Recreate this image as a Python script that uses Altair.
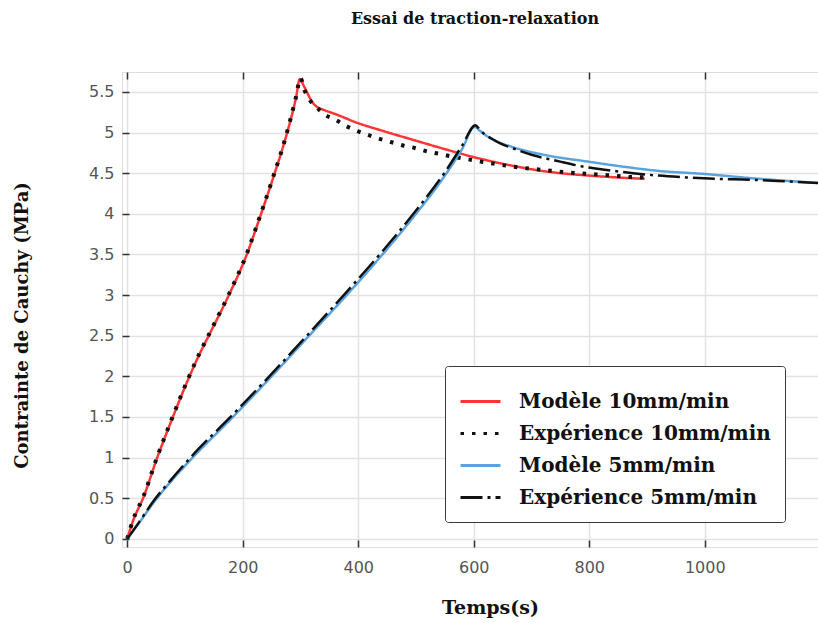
import altair as alt
import pandas as pd

# ---------------- data ----------------
series_names = ["Modèle 10mm/min", "Expérience 10mm/min", "Modèle 5mm/min", "Expérience 5mm/min"]
series_colors = ["#ff3535", "#111111", "#5aa3de", "#111111"]
series_dashes = [[1, 0], [3.5, 8], [1, 0], [22, 5, 3, 5]]

t_mod10 = [0, 10, 28, 52, 78, 106, 125, 144, 176, 206, 228, 253, 275, 292, 299,
           306, 311, 316, 322, 330, 340, 363, 398, 438, 495, 553, 599, 668, 726, 800, 842, 896]
s_mod10 = [0, 0.22, 0.51, 1.0, 1.48, 1.97, 2.27, 2.54, 3.0, 3.48, 3.92, 4.45, 4.95, 5.42, 5.66,
           5.57, 5.5, 5.43, 5.36, 5.31, 5.28, 5.22, 5.12, 5.03, 4.91, 4.79, 4.70, 4.59, 4.52, 4.47, 4.45, 4.43]

t_exp10 = [0, 10, 28, 52, 78, 106, 125, 144, 176, 206, 228, 253, 275, 292, 300,
           307, 315, 327, 342, 360, 379, 398, 417, 438, 458, 478, 498, 518, 539, 559, 599, 640, 680, 720, 761,
           801, 842, 882, 896]
s_exp10 = [0, 0.23, 0.52, 1.01, 1.49, 1.98, 2.28, 2.55, 3.01, 3.49, 3.93, 4.46, 4.96, 5.43, 5.67,
           5.52, 5.41, 5.32, 5.22, 5.16, 5.08, 5.02, 4.97, 4.92, 4.88, 4.84, 4.81, 4.77, 4.74, 4.71, 4.66, 4.61, 4.57,
           4.54, 4.51, 4.49, 4.47, 4.45, 4.45]

t_mod5 = [0, 20, 45, 75, 112, 183, 250, 315, 380, 442, 500, 548, 580, 601,
          611, 622, 634, 668, 726, 800, 859, 917, 1000, 1078, 1196]
s_mod5 = [0, 0.19, 0.44, 0.7, 0.99, 1.5, 2.0, 2.5, 3.0, 3.5, 4.0, 4.45, 4.8, 5.07,
          5.02, 4.96, 4.91, 4.82, 4.72, 4.64, 4.58, 4.53, 4.49, 4.44, 4.38]

t_exp5 = [0, 20, 45, 75, 112, 183, 250, 315, 380, 442, 500, 548, 580, 603,
          610, 617, 630, 645, 670, 703, 745, 790, 830, 876, 920, 963, 1020, 1078, 1140, 1196]
s_exp5 = [0, 0.2, 0.46, 0.72, 1.02, 1.53, 2.03, 2.53, 3.04, 3.54, 4.04, 4.49, 4.84, 5.09,
          5.04, 4.99, 4.93, 4.87, 4.80, 4.72, 4.65, 4.58, 4.54, 4.50, 4.47, 4.45, 4.43, 4.42, 4.40, 4.38]

x_ticks = [0, 200, 400, 600, 800, 1000]
y_ticks = [0, 0.5, 1, 1.5, 2, 2.5, 3, 3.5, 4, 4.5, 5, 5.5]

title_text = "Essai de traction-relaxation"
x_title = "Temps(s)"
y_title = "Contrainte de Cauchy (MPa)"

# ---------------- table ----------------
rows = []
for name, ts, ss in zip(series_names,
                        [t_mod10, t_exp10, t_mod5, t_exp5],
                        [s_mod10, s_exp10, s_mod5, s_exp5]):
    for i, (t, s) in enumerate(zip(ts, ss)):
        rows.append({"serie": name, "t": t, "s": s, "ordre": i})
df = pd.DataFrame(rows)

serif = "DejaVu Serif"
sans = "DejaVu Sans"

xscale = alt.Scale(domain=[-9, 1196], nice=False, zero=False)
yscale = alt.Scale(domain=[-0.1, 5.745], nice=False, zero=False)

x_axis = alt.Axis(values=x_ticks, format="d", grid=True, gridColor="#e2e2e2", gridWidth=1.5,
                  offset=-7, tickSize=7, tickColor="#333333", tickWidth=1.5, domain=False,
                  labelFont=sans, labelFontSize=16, labelColor="#555555", labelPadding=12,
                  title=x_title, titleFont=serif, titleFontSize=19, titleFontWeight="bold",
                  titleColor="#111111", titlePadding=23, titleX=368, titleAlign="center")
y_axis = alt.Axis(values=y_ticks, format=".1~f", grid=True, gridColor="#e2e2e2", gridWidth=1.5,
                  offset=-7, tickSize=7, tickColor="#333333", tickWidth=1.5, domain=False,
                  labelFont=sans, labelFontSize=16, labelColor="#555555", labelPadding=8,
                  title=y_title, titleFont=serif, titleFontSize=18, titleFontWeight="bold",
                  titleColor="#111111", titlePadding=57, titleY=253)

color_scale = alt.Scale(domain=series_names, range=series_colors)
dash_scale = alt.Scale(domain=series_names, range=series_dashes)

legend = alt.Legend(title=None, orient="none", legendX=323, legendY=294,
                    symbolType="stroke", symbolSize=1600, symbolStrokeWidth=3,
                    labelFont=serif, labelFontSize=20, labelFontWeight="bold", labelColor="#111111",
                    labelLimit=420, labelOffset=17, rowPadding=0, padding=14,
                    labelExpr="datum.label + '\u00a0\u00a0\u00a0\u00a0\u00a0\u00a0'",
                    fillColor="white", strokeColor="#3a3a3a", cornerRadius=3)

widths = [2.5, 4, 2.5, 2.5]

layers = []
for k, name in enumerate(series_names):
    first = (k == 0)
    layer = alt.Chart(df).transform_filter(alt.datum.serie == name).mark_line(
        strokeWidth=widths[k], clip=True, interpolate="monotone"
    ).encode(
        x=alt.X("t:Q", scale=xscale, axis=x_axis if first else None),
        y=alt.Y("s:Q", scale=yscale, axis=y_axis if first else None),
        color=alt.Color("serie:N", scale=color_scale, legend=legend if first else None),
        strokeDash=alt.StrokeDash("serie:N", scale=dash_scale, legend=legend if first else None),
        order="ordre:Q",
    )
    layers.append(layer)

top_ticks = alt.Chart(df).mark_line(opacity=0).encode(
    x=alt.X("t:Q", scale=xscale,
            axis=alt.Axis(orient="top", values=x_ticks, labels=False, grid=False, domain=False,
                          offset=-7, tickSize=7, tickColor="#333333", tickWidth=1.5, title=None)),
    y=alt.Y("s:Q", scale=yscale, axis=None),
    detail="serie:N",
)

chart = alt.layer(*layers, top_ticks).resolve_axis(x="independent", y="independent").properties(
    width=696, height=475,
    title=alt.TitleParams(title_text, font=serif, fontSize=16, fontWeight="bold", color="#111111",
                          anchor="middle", frame="group", offset=44, dx=5),
    autosize=alt.AutoSizeParams(type="none"),
    padding={"left": 122, "top": 72, "right": 0, "bottom": 76},
).configure_view(stroke="#3a3a3a", strokeWidth=2).configure(background="white")

chart.save("out.html", embed_options={"renderer": "svg", "actions": False})
